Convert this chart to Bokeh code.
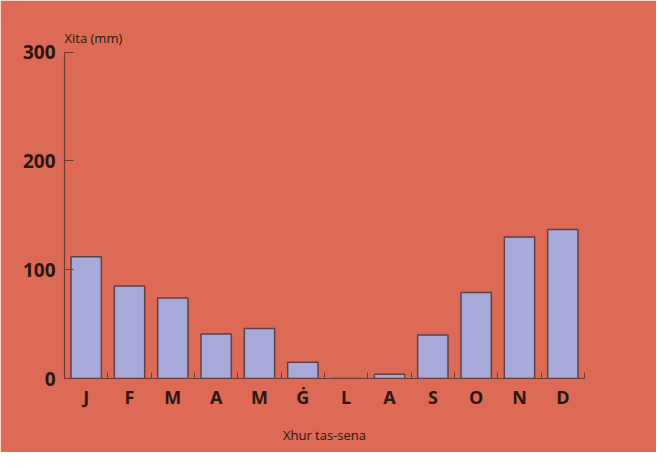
from bokeh.plotting import figure
from bokeh.models import FixedTicker, Range1d, ColumnDataSource, Label
from bokeh.embed import file_html
from bokeh.resources import INLINE

months = ["J", "F", "M", "A", "M", "Ġ", "L", "A", "S", "O", "N", "D"]
rain_mm = [112, 85, 74, 41, 46, 15, 0, 4, 40, 79, 130, 137]
y_ticks = [0, 100, 200, 300]
y_title = "Xita (mm)"
x_title = "Xhur tas-sena"

BG = "#DD6A56"
BAR = "#A7AAD8"
EDGE = "#5C4048"
AXIS = "#6E3A30"
TXT = "#2A1610"
FONT = "Open Sans"

pos = list(range(1, len(months) + 1))
src = ColumnDataSource(dict(x=pos, top=rain_mm))

p = figure(width=656, height=452, output_backend="svg", toolbar_location=None,
           x_range=Range1d(0.5, len(months) + 0.5), y_range=Range1d(0, 318),
           min_border_left=64, min_border_right=72, min_border_top=32, min_border_bottom=74)
p.background_fill_color = BG
p.border_fill_color = BG
p.outline_line_color = BG
p.outline_line_width = 3
p.grid.grid_line_color = None

p.vbar(x="x", top="top", bottom=0, width=0.7, source=src,
       fill_color=BAR, line_color=EDGE, line_width=1.5)

xa = p.xaxis[0]
xa.ticker = FixedTicker(ticks=pos, minor_ticks=[i + 0.5 for i in pos])
xa.major_label_overrides = {i: m for i, m in zip(pos, months)}
xa.major_tick_in = 0
xa.major_tick_out = 0
xa.minor_tick_in = 6
xa.minor_tick_out = 0
xa.minor_tick_line_color = AXIS
xa.axis_line_color = AXIS
xa.axis_line_width = 1.2
xa.major_label_text_font = FONT
xa.major_label_text_font_size = "18px"
xa.major_label_text_font_style = "bold"
xa.major_label_text_color = TXT
xa.major_label_standoff = 6
xa.axis_label = x_title
xa.axis_label_text_font = FONT
xa.axis_label_text_font_size = "13px"
xa.axis_label_text_font_style = "normal"
xa.axis_label_text_color = TXT
xa.axis_label_standoff = 14

ya = p.yaxis[0]
ya.ticker = FixedTicker(ticks=y_ticks, minor_ticks=[])
ya.bounds = (0, 300)
ya.major_tick_in = 9
ya.major_tick_out = 0
ya.major_tick_line_color = AXIS
ya.axis_line_color = AXIS
ya.axis_line_width = 1.2
ya.major_label_text_font = FONT
ya.major_label_text_font_size = "19px"
ya.major_label_text_font_style = "bold"
ya.major_label_text_color = TXT
ya.major_label_standoff = 9

p.add_layout(Label(x=0.5, y=300, x_offset=0, y_offset=5, text=y_title,
                   text_font=FONT, text_font_size="13px", text_color=TXT))

open("out.html", "w").write(file_html(p, INLINE))
